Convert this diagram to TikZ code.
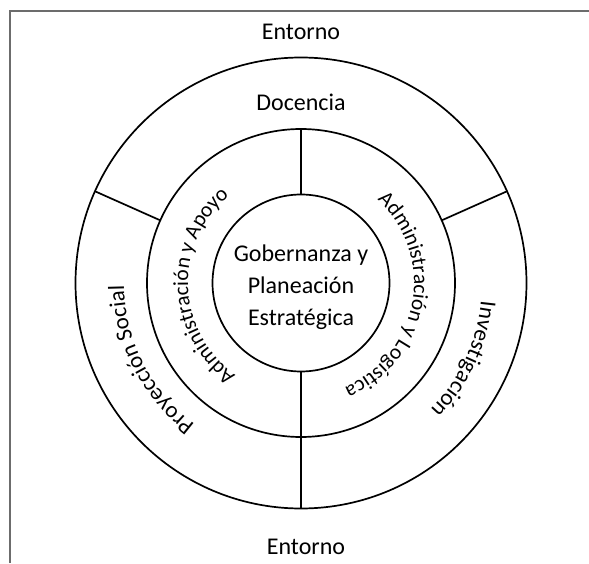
\documentclass[tikz,border=0pt]{standalone}
\usepackage{fontspec}
\setmainfont{Carlito}
\usetikzlibrary{positioning}
\usetikzlibrary{decorations.text}

\newcommand{\ringfont}{\fontsize{23}{27}\selectfont}
\newcommand{\midfont}{\fontsize{21.5}{26}\selectfont}

\begin{document}
\begin{tikzpicture}
        [x=1pt,y=1pt,
         ring/.style={circle, draw, line width=1.7pt, inner sep=0pt, outer sep=0pt},
         spoke/.style={line width=1.7pt},
         tag/.style={font=\fontsize{24}{32}\selectfont, align=center},
         bend text/.style={decorate, decoration={text along path, text align=center, text={#1}}}]
      \useasboundingbox (0,0) rectangle (589,563);
      \draw [gray!85!black, line width=2.2pt] (10,0) -- (10,552) -- (589,552);
      \coordinate (c) at (301,280);
      \node[ring, minimum size=451pt] (outer) at (c) {};
      \node[ring, minimum size=308pt] (mid) at (c) {};
      \node[ring, minimum size=177pt] (gob) at (c) {};
      \node[tag] (plan) at (301,275.5) {Gobernanza y\\Planeación\\Estratégica};
      \node[tag] (doc) at (301,461) {Docencia};
      \node[tag] (envtop) at (301,531) {Entorno};
      \node[tag] (envbot) at (306,16) {Entorno};
      \draw [spoke] (gob.90) -- (mid.90);
      \draw [spoke] (gob.270) -- (outer.270);
      \draw [spoke] (mid.156) -- (outer.156);
      \draw [spoke] (mid.24) -- (outer.24);
      \path [bend text={|\midfont|Administración y Apoyo}] ([shift={(267:113)}]c) arc[start angle=267, end angle=97, radius=113];
      \path [bend text={|\midfont|Administración y Logística}] ([shift={(75:113)}]c) arc[start angle=75, end angle=-95, radius=113];
      \path [bend text={|\ringfont|Proyección Social}] ([shift={(267:177)}]c) arc[start angle=267, end angle=147, radius=177];
      \path [bend text={|\ringfont|Investigación}] ([shift={(35:181)}]c) arc[start angle=35, end angle=-85, radius=181];
      \end{tikzpicture}
\end{document}
